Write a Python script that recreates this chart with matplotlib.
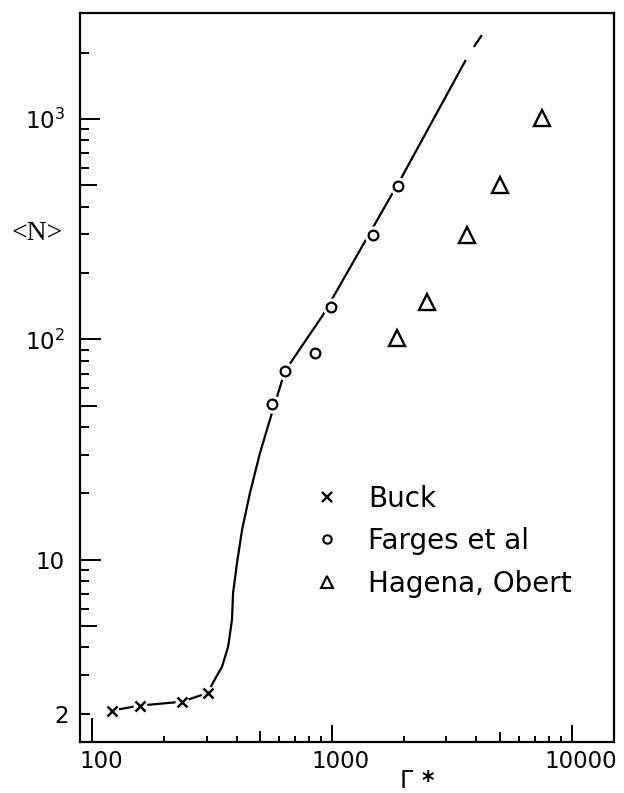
import matplotlib
matplotlib.use('Agg')
import matplotlib.pyplot as plt
from matplotlib.lines import Line2D
from matplotlib.ticker import FixedLocator, FuncFormatter, NullFormatter
from matplotlib.transforms import ScaledTranslation

# ---- data ----
buck_x = [121, 158, 237, 304]
buck_y = [2.07, 2.18, 2.27, 2.49]

farges_x = [562, 637, 850, 990, 1483, 1884]
farges_y = [51, 72, 87, 140, 298, 497]

hagena_x = [1866, 2488, 3652, 5012, 7499]
hagena_y = [102, 148, 298, 502, 1011]

curve_x = [121, 158, 237, 304, 319, 348, 369, 383, 387, 402, 422, 455,
           501, 562, 637, 917, 1346, 1976, 3614]
curve_y = [2.07, 2.18, 2.27, 2.49, 2.77, 3.27, 4.03, 5.35, 7.08, 9.7, 13.7,
           20.1, 30.5, 46.4, 71.9, 129, 268, 557, 1854]

ext_x = [3905, 4217]
ext_y = [2125, 2404]

legend_labels = ['Buck', 'Farges et al', 'Hagena, Obert']

x_major = [100, 500, 1000, 5000, 10000]
x_major_labels = ['100', '', '1000', '', '10000']
x_minor = [200, 300, 400, 600, 700, 800, 900,
           2000, 3000, 4000, 6000, 7000, 8000, 9000]

y_major = [2, 5, 10, 50, 100, 500, 1000]
y_major_labels = ['2', '', '10', '', r'$\mathregular{10^2}$', '', r'$\mathregular{10^3}$']
y_minor = [3, 4, 6, 7, 8, 9, 20, 30, 40, 60, 70, 80, 90,
           200, 300, 400, 600, 700, 800, 900, 2000]

# ---- figure ----
plt.rcParams['font.family'] = ['DejaVu Sans']
fig = plt.figure(figsize=(6.24, 7.93), dpi=100)
ax = fig.add_axes([80/624, 1 - 742/793, (614 - 80)/624, (742 - 13)/793])
ax.set_xscale('log')
ax.set_yscale('log')
ax.set_xlim(89, 15000)
ax.set_ylim(1.49, 3030)

for s in ax.spines.values():
    s.set_linewidth(1.6)

# curve
ax.plot(curve_x, curve_y, color='k', lw=1.6, zorder=2, solid_capstyle='butt',
        solid_joinstyle='round')
ax.plot(ext_x, ext_y, color='k', lw=1.6, zorder=2, solid_capstyle='butt')

# white halos that break the line around the points
ax.plot(buck_x, buck_y, ls='none', marker='o', ms=10, mfc='white', mec='none', zorder=3)
ax.plot(farges_x, farges_y, ls='none', marker='o', ms=13, mfc='white', mec='none', zorder=3)

# markers
ax.plot(buck_x, buck_y, ls='none', marker='x', ms=7.5, mew=1.8, color='k', zorder=4)
ax.plot(farges_x, farges_y, ls='none', marker='o', ms=7, mew=1.6, mfc='white', mec='k', zorder=4)
ax.plot(hagena_x, hagena_y, ls='none', marker='^', ms=12, mew=1.7, mfc='white', mec='k', zorder=4)

# legend
handles = [
    Line2D([], [], ls='none', marker='x', ms=7, mew=1.7, color='k'),
    Line2D([], [], ls='none', marker='o', ms=6, mew=1.5, mfc='white', mec='k'),
    Line2D([], [], ls='none', marker='^', ms=8, mew=1.5, mfc='white', mec='k'),
]
leg = ax.legend(handles, legend_labels, loc='upper left',
                bbox_to_anchor=(0.436, 0.353), frameon=False,
                fontsize=20, handlelength=1.0, handletextpad=1.0,
                labelspacing=0.52, borderpad=0, borderaxespad=0)

# ticks
ax.xaxis.set_major_locator(FixedLocator(x_major))
ax.xaxis.set_major_formatter(FuncFormatter(lambda v, p: x_major_labels[x_major.index(round(v))] if round(v) in x_major else ''))
ax.xaxis.set_minor_locator(FixedLocator(x_minor))
ax.xaxis.set_minor_formatter(NullFormatter())
ax.yaxis.set_major_locator(FixedLocator(y_major))
ax.yaxis.set_major_formatter(FuncFormatter(lambda v, p: y_major_labels[y_major.index(round(v))] if round(v) in y_major else ''))
ax.yaxis.set_minor_locator(FixedLocator(y_minor))
ax.yaxis.set_minor_formatter(NullFormatter())

ax.tick_params(axis='both', which='both', direction='in', width=1.4,
               top=False, right=False, colors='k')
ax.tick_params(axis='x', which='major', labelsize=16.5, pad=6)
ax.tick_params(axis='y', which='major', labelsize=16.5, pad=11)
ax.tick_params(axis='x', which='minor', length=4.5)
ax.tick_params(axis='y', which='minor', length=6.5)

x_len = [17, 8, 12, 7.5, 12]
y_len = [7, 12, 15, 12, 15, 12, 14.5]
xshift = ScaledTranslation(9/100, 0, fig.dpi_scale_trans)
for t, L in zip(ax.xaxis.get_major_ticks(len(x_major)), x_len):
    t.tick1line.set_markersize(L)
    t.label1.set_transform(t.label1.get_transform() + xshift)
for t, L in zip(ax.yaxis.get_major_ticks(len(y_major)), y_len):
    t.tick1line.set_markersize(L)
    if t is ax.yaxis.get_major_ticks()[0]:
        t.label1.set_transform(t.label1.get_transform() + ScaledTranslation(4/100, 0, fig.dpi_scale_trans))

# axis labels
fig.text(37/624, 1 - 234/793, '<N>', family='Liberation Serif', fontsize=20,
         ha='center', va='center')
fig.text(400/624, 0.0, 'Γ', fontsize=17, ha='left', va='bottom')
fig.text(421/624, 0.0, '*', fontsize=17, fontweight='bold', ha='left', va='bottom')

fig.savefig('out.png', dpi=100, facecolor='white')
